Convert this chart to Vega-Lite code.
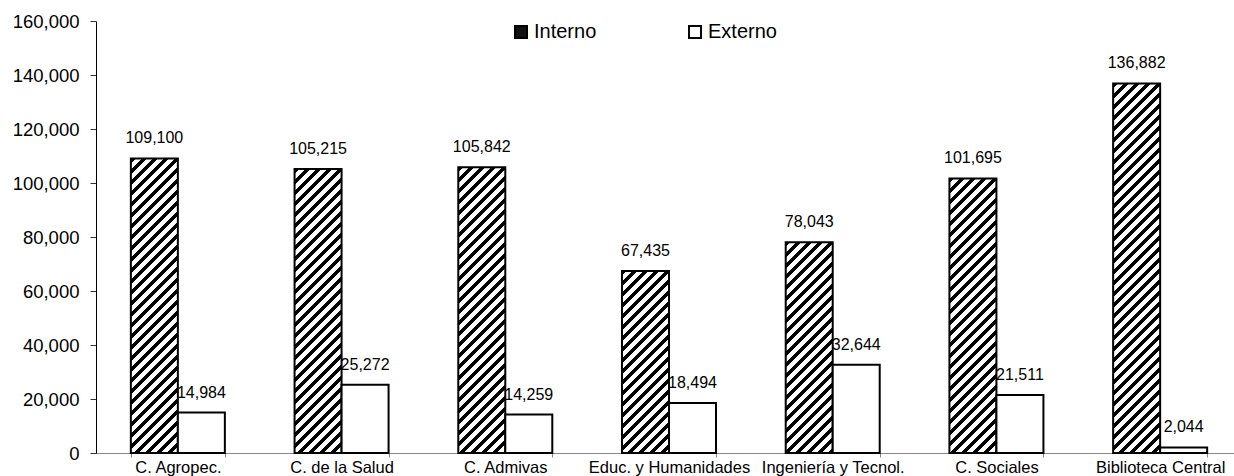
{
  "$schema": "https://vega.github.io/schema/vega-lite/v6.json",
  "width": 1138,
  "height": 432,
  "autosize": {"type": "none"},
  "padding": {"left": 96, "top": 21, "right": 0, "bottom": 23},
  "background": "white",
  "config": {
    "view": {"stroke": null},
    "font": "Liberation Sans",
    "axis": {"labelFont": "Liberation Sans", "labelColor": "black", "title": null, "grid": false},
    "legend": {"labelFont": "Liberation Sans"}
  },
  "params": [
    {"name": "stripes", "value": [
      {"offset":0,"color":"#000"},{"offset":0.011,"color":"#000"},{"offset":0.011,"color":"#fff"},{"offset":0.025,"color":"#fff"},
      {"offset":0.025,"color":"#000"},{"offset":0.036,"color":"#000"},{"offset":0.036,"color":"#fff"},{"offset":0.05,"color":"#fff"},
      {"offset":0.05,"color":"#000"},{"offset":0.061,"color":"#000"},{"offset":0.061,"color":"#fff"},{"offset":0.075,"color":"#fff"},
      {"offset":0.075,"color":"#000"},{"offset":0.086,"color":"#000"},{"offset":0.086,"color":"#fff"},{"offset":0.1,"color":"#fff"},
      {"offset":0.1,"color":"#000"},{"offset":0.111,"color":"#000"},{"offset":0.111,"color":"#fff"},{"offset":0.125,"color":"#fff"},
      {"offset":0.125,"color":"#000"},{"offset":0.136,"color":"#000"},{"offset":0.136,"color":"#fff"},{"offset":0.15,"color":"#fff"},
      {"offset":0.15,"color":"#000"},{"offset":0.161,"color":"#000"},{"offset":0.161,"color":"#fff"},{"offset":0.175,"color":"#fff"},
      {"offset":0.175,"color":"#000"},{"offset":0.186,"color":"#000"},{"offset":0.186,"color":"#fff"},{"offset":0.2,"color":"#fff"},
      {"offset":0.2,"color":"#000"},{"offset":0.211,"color":"#000"},{"offset":0.211,"color":"#fff"},{"offset":0.225,"color":"#fff"},
      {"offset":0.225,"color":"#000"},{"offset":0.236,"color":"#000"},{"offset":0.236,"color":"#fff"},{"offset":0.25,"color":"#fff"},
      {"offset":0.25,"color":"#000"},{"offset":0.261,"color":"#000"},{"offset":0.261,"color":"#fff"},{"offset":0.275,"color":"#fff"},
      {"offset":0.275,"color":"#000"},{"offset":0.286,"color":"#000"},{"offset":0.286,"color":"#fff"},{"offset":0.3,"color":"#fff"},
      {"offset":0.3,"color":"#000"},{"offset":0.311,"color":"#000"},{"offset":0.311,"color":"#fff"},{"offset":0.325,"color":"#fff"},
      {"offset":0.325,"color":"#000"},{"offset":0.336,"color":"#000"},{"offset":0.336,"color":"#fff"},{"offset":0.35,"color":"#fff"},
      {"offset":0.35,"color":"#000"},{"offset":0.361,"color":"#000"},{"offset":0.361,"color":"#fff"},{"offset":0.375,"color":"#fff"},
      {"offset":0.375,"color":"#000"},{"offset":0.386,"color":"#000"},{"offset":0.386,"color":"#fff"},{"offset":0.4,"color":"#fff"},
      {"offset":0.4,"color":"#000"},{"offset":0.411,"color":"#000"},{"offset":0.411,"color":"#fff"},{"offset":0.425,"color":"#fff"},
      {"offset":0.425,"color":"#000"},{"offset":0.436,"color":"#000"},{"offset":0.436,"color":"#fff"},{"offset":0.45,"color":"#fff"},
      {"offset":0.45,"color":"#000"},{"offset":0.461,"color":"#000"},{"offset":0.461,"color":"#fff"},{"offset":0.475,"color":"#fff"},
      {"offset":0.475,"color":"#000"},{"offset":0.486,"color":"#000"},{"offset":0.486,"color":"#fff"},{"offset":0.5,"color":"#fff"},
      {"offset":0.5,"color":"#000"},{"offset":0.511,"color":"#000"},{"offset":0.511,"color":"#fff"},{"offset":0.525,"color":"#fff"},
      {"offset":0.525,"color":"#000"},{"offset":0.536,"color":"#000"},{"offset":0.536,"color":"#fff"},{"offset":0.55,"color":"#fff"},
      {"offset":0.55,"color":"#000"},{"offset":0.561,"color":"#000"},{"offset":0.561,"color":"#fff"},{"offset":0.575,"color":"#fff"},
      {"offset":0.575,"color":"#000"},{"offset":0.586,"color":"#000"},{"offset":0.586,"color":"#fff"},{"offset":0.6,"color":"#fff"},
      {"offset":0.6,"color":"#000"},{"offset":0.611,"color":"#000"},{"offset":0.611,"color":"#fff"},{"offset":0.625,"color":"#fff"},
      {"offset":0.625,"color":"#000"},{"offset":0.636,"color":"#000"},{"offset":0.636,"color":"#fff"},{"offset":0.65,"color":"#fff"},
      {"offset":0.65,"color":"#000"},{"offset":0.661,"color":"#000"},{"offset":0.661,"color":"#fff"},{"offset":0.675,"color":"#fff"},
      {"offset":0.675,"color":"#000"},{"offset":0.686,"color":"#000"},{"offset":0.686,"color":"#fff"},{"offset":0.7,"color":"#fff"},
      {"offset":0.7,"color":"#000"},{"offset":0.711,"color":"#000"},{"offset":0.711,"color":"#fff"},{"offset":0.725,"color":"#fff"},
      {"offset":0.725,"color":"#000"},{"offset":0.736,"color":"#000"},{"offset":0.736,"color":"#fff"},{"offset":0.75,"color":"#fff"},
      {"offset":0.75,"color":"#000"},{"offset":0.761,"color":"#000"},{"offset":0.761,"color":"#fff"},{"offset":0.775,"color":"#fff"},
      {"offset":0.775,"color":"#000"},{"offset":0.786,"color":"#000"},{"offset":0.786,"color":"#fff"},{"offset":0.8,"color":"#fff"},
      {"offset":0.8,"color":"#000"},{"offset":0.811,"color":"#000"},{"offset":0.811,"color":"#fff"},{"offset":0.825,"color":"#fff"},
      {"offset":0.825,"color":"#000"},{"offset":0.836,"color":"#000"},{"offset":0.836,"color":"#fff"},{"offset":0.85,"color":"#fff"},
      {"offset":0.85,"color":"#000"},{"offset":0.861,"color":"#000"},{"offset":0.861,"color":"#fff"},{"offset":0.875,"color":"#fff"},
      {"offset":0.875,"color":"#000"},{"offset":0.886,"color":"#000"},{"offset":0.886,"color":"#fff"},{"offset":0.9,"color":"#fff"},
      {"offset":0.9,"color":"#000"},{"offset":0.911,"color":"#000"},{"offset":0.911,"color":"#fff"},{"offset":0.925,"color":"#fff"},
      {"offset":0.925,"color":"#000"},{"offset":0.936,"color":"#000"},{"offset":0.936,"color":"#fff"},{"offset":0.95,"color":"#fff"},
      {"offset":0.95,"color":"#000"},{"offset":0.961,"color":"#000"},{"offset":0.961,"color":"#fff"},{"offset":0.975,"color":"#fff"},
      {"offset":0.975,"color":"#000"},{"offset":0.986,"color":"#000"},{"offset":0.986,"color":"#fff"},{"offset":1,"color":"#fff"}
    ]}
  ],
  "data": {
    "values": [
      {"area": "C. Agropec.", "tipo": "Interno", "valor": 109100},
      {"area": "C. Agropec.", "tipo": "Externo", "valor": 14984},
      {"area": "C. de la Salud", "tipo": "Interno", "valor": 105215},
      {"area": "C. de la Salud", "tipo": "Externo", "valor": 25272},
      {"area": "C. Admivas", "tipo": "Interno", "valor": 105842},
      {"area": "C. Admivas", "tipo": "Externo", "valor": 14259},
      {"area": "Educ. y Humanidades", "tipo": "Interno", "valor": 67435},
      {"area": "Educ. y Humanidades", "tipo": "Externo", "valor": 18494},
      {"area": "Ingeniería y Tecnol.", "tipo": "Interno", "valor": 78043},
      {"area": "Ingeniería y Tecnol.", "tipo": "Externo", "valor": 32644},
      {"area": "C. Sociales", "tipo": "Interno", "valor": 101695},
      {"area": "C. Sociales", "tipo": "Externo", "valor": 21511},
      {"area": "Biblioteca Central", "tipo": "Interno", "valor": 136882},
      {"area": "Biblioteca Central", "tipo": "Externo", "valor": 2044}
    ]
  },
  "encoding": {
    "x": {
      "field": "area", "type": "nominal", "sort": null,
      "scale": {"range": [0, 1146], "paddingInner": 0.4258, "paddingOuter": 0.2129},
      "axis": {
        "labelAngle": 0, "labelFontSize": 16.5, "labelPadding": 2,
        "domainColor": "#888888", "domainWidth": 1, "tickColor": "#888888", "tickSize": 4,
        "tickBand": "extent", "labelOverlap": false
      }
    },
    "xOffset": {"field": "tipo", "type": "nominal", "sort": ["Interno", "Externo"], "scale": {"paddingInner": 0, "paddingOuter": 0}},
    "y": {
      "field": "valor", "type": "quantitative",
      "scale": {"domain": [0, 160000], "nice": false},
      "axis": {
        "values": [0, 20000, 40000, 60000, 80000, 100000, 120000, 140000, 160000],
        "format": ",.0f", "labelFontSize": 18.5, "labelPadding": 11,
        "domainColor": "black", "domainWidth": 1, "tickColor": "#333333", "tickSize": 6
      }
    }
  },
  "layer": [
    {
      "mark": {"type": "bar", "stroke": "black", "strokeWidth": 2},
      "encoding": {
        "fill": {
          "field": "tipo", "type": "nominal",
          "scale": {"domain": ["Interno", "Externo"], "range": ["#111111", "white"]},
          "legend": {
            "title": null, "orient": "none", "direction": "horizontal",
            "legendX": 415, "legendY": 1,
            "symbolType": "square", "symbolSize": 144, "symbolStrokeColor": "black", "symbolStrokeWidth": 2,
            "labelFontSize": 20, "labelColor": "black", "labelOffset": 3, "columnPadding": 88
          },
          "condition": {
            "test": "datum.tipo === 'Interno'",
            "value": {"expr": "{gradient: 'linear', x1: 0, y1: 0, x2: bandwidth('xOffset') * 440 / (pow(bandwidth('xOffset'), 2) + pow(scale('y', 0) - scale('y', datum.valor), 2)), y2: (scale('y', 0) - scale('y', datum.valor)) * 440 / (pow(bandwidth('xOffset'), 2) + pow(scale('y', 0) - scale('y', datum.valor), 2)), stops: stripes}"}
          }
        }
      }
    },
    {
      "mark": {"type": "text", "baseline": "bottom", "dy": -12, "fontSize": 16, "color": "black", "font": "Liberation Sans"},
      "encoding": {
        "text": {"field": "valor", "type": "quantitative", "format": ","}
      }
    }
  ]
}
